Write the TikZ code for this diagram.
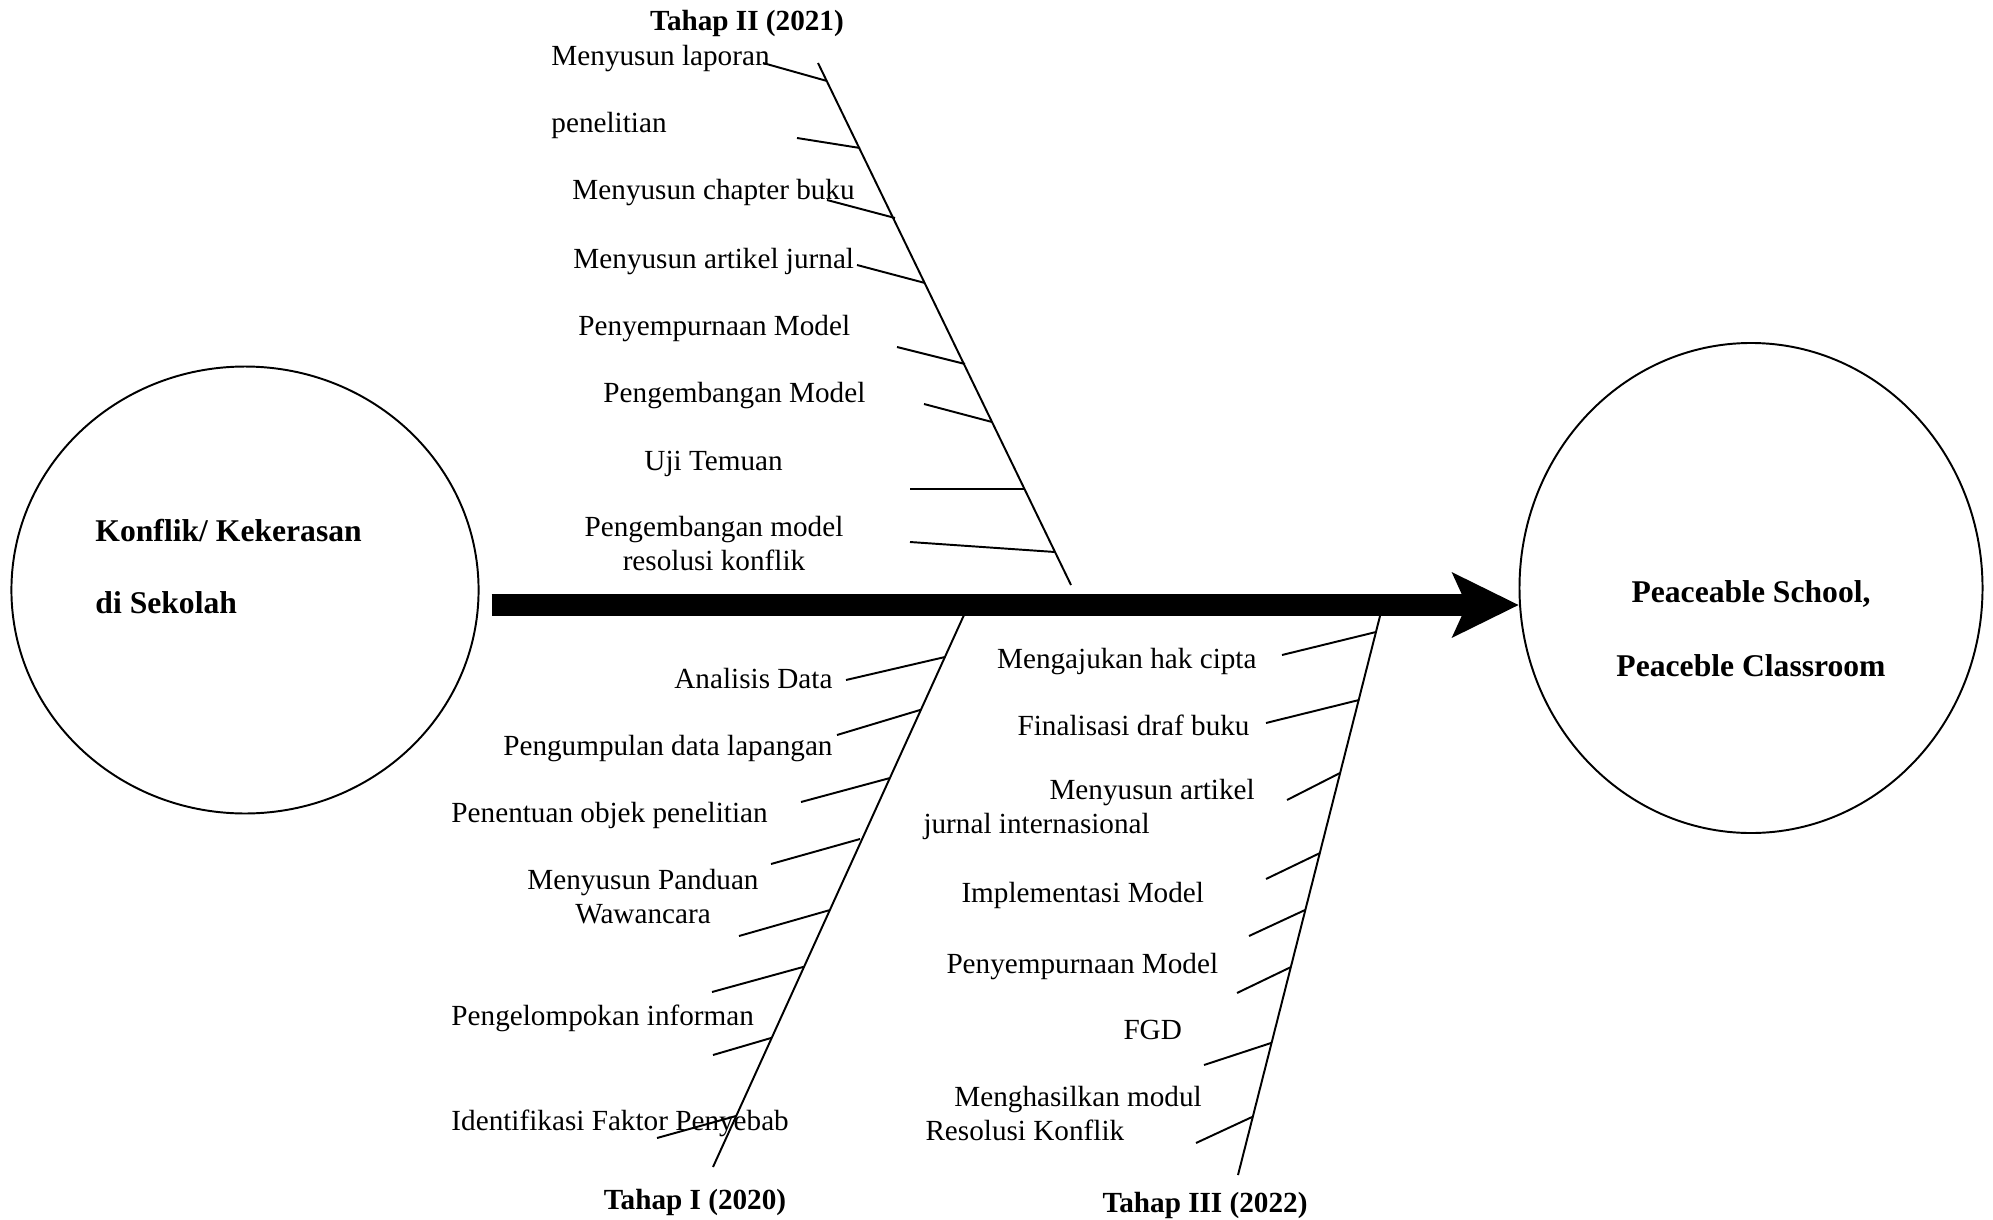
\documentclass[tikz,border=0pt]{standalone}
\usepackage{fontspec}
\setmainfont{Liberation Serif}
\usetikzlibrary{shapes.geometric,arrows.meta,calc}

\tikzset{
  task/.style={inner sep=0pt, font=\fontsize{12}{13.6}\selectfont},
  phase/.style={inner sep=0pt, font=\fontsize{12}{13.6}\selectfont\bfseries},
  goal/.style={inner sep=0pt, font=\fontsize{13}{15.6}\selectfont\bfseries},
  pole/.style={draw, ellipse, line width=0.8pt, inner sep=0pt},
  bone/.style={line width=0.8pt},
  flow/.style={line width=9.04pt, -{Stealth[length=27.5pt, width=27.1pt, inset=6.2pt, line width=0pt]}},
}

\begin{document}
\begin{tikzpicture}[x=0.411pt, y=-0.411pt]
\useasboundingbox (0,0) rectangle (1993,1219);

% start and goal
\node[pole, minimum width=192pt, minimum height=183.7pt] (conflict) at (245,590) {};
\node[pole, minimum width=190.3pt, minimum height=201.4pt] (peace) at (1751,588) {};
\node[goal, anchor=base west, align=left] (conflictText) at (95,613) {Konflik/ Kekerasan\\[13.6pt]di Sekolah};
\node[goal, anchor=base, align=center] (peaceText) at (1751,676) {Peaceable School,\\[14.8pt]Peaceble Classroom};

\draw[flow] ($(conflict.east)+(12,15)$) -- ($(peace.west)+(0,17)$);

% Tahap II (2021)
\node[phase, anchor=base] (phaseTwo) at (747,31) {Tahap II (2021)};
\coordinate (twoTop) at (818,63);
\coordinate (twoEnd) at (1071,585);
\draw[bone] (twoTop) -- (twoEnd);
\foreach \a/\b/\c/\d in {763/63/827/81, 797/138/860/148, 827/200/895/218, 857/265/925/283,
                        897/347/965/364, 924/404/992/422, 910/489/1024/489, 910/542/1055/552}
  \draw[bone] (\a,\b) -- (\c,\d);
\node[task, anchor=base west, align=left] (twoA) at (551,133) {Menyusun laporan\\[14pt]penelitian};
\node[task, anchor=base west] (twoB) at (572,200) {Menyusun chapter buku};
\node[task, anchor=base west] (twoC) at (573,268) {Menyusun artikel jurnal};
\node[task, anchor=base west] (twoD) at (578,335) {Penyempurnaan Model};
\node[task, anchor=base west] (twoE) at (603,402) {Pengembangan Model};
\node[task, anchor=base west] (twoF) at (644,470) {Uji Temuan};
\node[task, anchor=base, align=center] (twoG) at (714,570) {Pengembangan model\\resolusi konflik};

% Tahap I (2020)
\node[phase, anchor=base] (phaseOne) at (695,1209) {Tahap I (2020)};
\coordinate (oneTop) at (964,615);
\coordinate (oneEnd) at (713,1167);
\draw[bone] (oneTop) -- (oneEnd);
\foreach \a/\b/\c/\d in {846/680/945/657, 837/735/920/710, 801/802/890/778, 771/864/860/839,
                        739/936/830/910, 712/992/803/967, 713/1055/771/1038, 657/1138/736/1116}
  \draw[bone] (\a,\b) -- (\c,\d);
\node[task, anchor=base east] (oneA) at (833,688) {Analisis Data};
\node[task, anchor=base east] (oneB) at (833,755) {Pengumpulan data lapangan};
\node[task, anchor=base west] (oneC) at (451,822) {Penentuan objek penelitian};
\node[task, anchor=base, align=center] (oneD) at (643,923) {Menyusun Panduan\\Wawancara};
\node[task, anchor=base west] (oneE) at (451,1025) {Pengelompokan informan};
\node[task, anchor=base west] (oneF) at (451,1130) {Identifikasi Faktor Penyebab};

% Tahap III (2022)
\node[phase, anchor=base] (phaseThree) at (1205,1212) {Tahap III (2022)};
\coordinate (threeTop) at (1380,616);
\coordinate (threeEnd) at (1238,1175);
\draw[bone] (threeTop) -- (threeEnd);
\foreach \a/\b/\c/\d in {1282/655/1376/632, 1266/723/1359/700, 1287/800/1340/773, 1266/879/1320/853,
                        1249/936/1305/910, 1237/993/1291/967, 1204/1065/1271/1043, 1196/1143/1252/1117}
  \draw[bone] (\a,\b) -- (\c,\d);
\node[task, anchor=base east] (threeA) at (1257,668) {Mengajukan hak cipta};
\node[task, anchor=base east] (threeB) at (1250,735) {Finalisasi draf buku};
\node[task, anchor=base west, align=left] (threeC) at (923,833) {\hspace*{51.8pt}Menyusun artikel\\jurnal internasional};
\node[task, anchor=base west] (threeD) at (961,902) {Implementasi Model};
\node[task, anchor=base west] (threeE) at (946,973) {Penyempurnaan Model};
\node[task, anchor=base west] (threeF) at (1123,1039) {FGD};
\node[task, anchor=base west, align=left] (threeG) at (925,1140) {\hspace*{11.9pt}Menghasilkan modul\\Resolusi Konflik};

\end{tikzpicture}
\end{document}
